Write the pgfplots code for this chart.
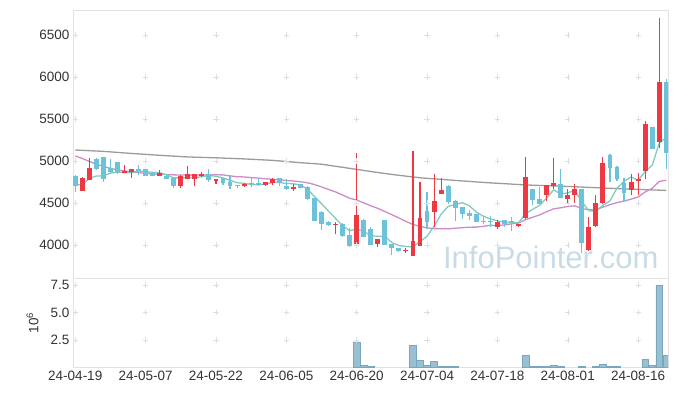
\documentclass[border=0pt]{standalone}
\usepackage{pgfplots}
\pgfplotsset{compat=1.18}
\usepackage{pgfplotstable}
\usepackage{fontspec}
\setmainfont{Liberation Sans}
\definecolor{cup}{RGB}{239,57,66}
\definecolor{cdn}{RGB}{108,194,217}
\definecolor{cmaa}{RGB}{130,202,192}
\definecolor{cmab}{RGB}{204,140,200}
\definecolor{cmac}{RGB}{155,155,155}
\definecolor{cvol}{RGB}{152,192,208}
\definecolor{cvold}{RGB}{120,166,188}
\definecolor{cgrid}{RGB}{222,222,222}
\definecolor{cframe}{RGB}{226,226,226}
\definecolor{cwm}{RGB}{200,219,230}
\definecolor{ctext}{RGB}{51,51,51}

% up (red) candles: index open high low close
\pgfplotstableread{
i o h l c
1 4647 4810 4640 4801
2 4774 5030 4770 4920
7 4861 4950 4855 4881
8 4873 4910 4800 4908
12 4825 4889 4820 4853
15 4706 4830 4679 4825
16 4782 4935 4780 4845
17 4786 4845 4702 4842
18 4821 4869 4815 4849
20 4762 4790 4730 4786
24 4706 4735 4690 4730
27 4714 4755 4700 4750
28 4738 4795 4714 4790
31 4663 4722 4639 4694
37 4238 4274 4127 4254
40 4008 5092 4000 4357
43 4016 4075 3976 4071
47 3925 3968 3901 3944
48 3873 5119 3870 4051
49 3992 4746 3990 4321
51 4397 4849 4220 4524
52 4611 4794 4605 4658
60 4218 4298 4194 4274
63 4222 4255 4215 4250
64 4321 5052 4315 4809
67 4599 4715 4524 4710
68 4706 5032 4667 4738
70 4552 4667 4496 4595
71 4595 4730 4500 4663
73 3937 4330 3929 4211
74 4226 4592 4220 4500
75 4496 5050 4490 4972
79 4655 4845 4595 4746
80 4762 4861 4595 4782
81 4885 5480 4782 5440
83 5230 6698 5151 5944
}\upT

% down (blue) candles
\pgfplotstableread{
i o h l c
0 4821 4830 4627 4706
3 5024 5030 4893 4908
4 5048 5050 4754 4782
5 4920 5024 4850 4865
6 4988 4990 4842 4869
9 4905 4950 4833 4885
10 4905 4910 4820 4825
11 4860 4870 4820 4825
13 4825 4830 4780 4790
14 4794 4800 4675 4702
19 4842 4905 4750 4774
21 4798 4800 4710 4738
22 4750 4830 4671 4706
23 4718 4720 4675 4706
25 4738 4800 4690 4726
26 4742 4800 4706 4718
29 4798 4800 4706 4742
30 4706 4782 4660 4667
32 4722 4730 4675 4683
33 4694 4700 4540 4548
34 4560 4565 4280 4286
35 4393 4400 4179 4254
36 4274 4280 4226 4238
38 4246 4266 4100 4111
39 4119 4202 3980 3992
41 4298 4305 4090 4095
42 4190 4211 4000 4004
44 4298 4300 4000 4004
45 4012 4015 3881 3968
46 3968 3970 3920 3925
50 4405 4627 4187 4274
53 4706 4710 4488 4516
54 4524 4536 4282 4445
55 4452 4455 4310 4373
56 4381 4417 4298 4349
57 4369 4372 4270 4278
58 4286 4337 4250 4274
59 4280 4341 4214 4270
61 4298 4300 4210 4254
62 4282 4329 4167 4270
65 4667 4670 4476 4536
66 4548 4694 4485 4488
69 4726 4901 4560 4563
72 4667 4670 3901 4020
76 5071 5080 4754 4920
77 4932 4945 4760 4782
78 4734 4794 4528 4623
82 5405 5410 5140 5147
84 5944 5976 4901 5099
}\dnT

% volume (millions)
\pgfplotstableread{
i v
40 2.32
41 0.19
42 0.10
48 2.04
49 0.68
50 0.19
51 0.59
52 0.10
53 0.10
54 0.10
64 1.12
65 0.10
66 0.10
67 0.10
68 0.19
69 0.10
72 0.10
74 0.10
75 0.28
76 0.10
77 0.10
81 0.74
82 0.19
83 7.45
84 1.12
}\volT

\begin{document}
\begin{tikzpicture}
\useasboundingbox (-73pt,-28.5pt) rectangle (604pt,367.5pt);
% ---------------- price panel ----------------
\begin{axis}[
  at={(0pt,89.5pt)}, anchor=south west,
  scale only axis, width=595pt, height=268pt,
  xmin=-0.32, xmax=84.25, ymin=3607, ymax=6798,
  xtick={0,10,...,80}, xticklabels={},
  ytick={4000,4500,5000,5500,6000,6500},
  axis line style={cframe},
  major tick length=0pt,
  tick label style={font=\fontsize{13.5}{14}\selectfont, text=ctext},
  /pgf/number format/1000 sep={},
  /pgf/number format/assume math mode=true,
]
\node[font=\fontsize{31}{31}\selectfont, text=cwm, anchor=base] at (rel axis cs:0.803,0.037) {InfoPointer.com};
\addplot[only marks, mark=+, mark size=2.6pt, color=cgrid, forget plot] coordinates {
(0,4000)(10,4000)(20,4000)(30,4000)(40,4000)(50,4000)(60,4000)(70,4000)(80,4000)
(0,4500)(10,4500)(20,4500)(30,4500)(40,4500)(50,4500)(60,4500)(70,4500)(80,4500)
(0,5000)(10,5000)(20,5000)(30,5000)(40,5000)(50,5000)(60,5000)(70,5000)(80,5000)
(0,5500)(10,5500)(20,5500)(30,5500)(40,5500)(50,5500)(60,5500)(70,5500)(80,5500)
(0,6000)(10,6000)(20,6000)(30,6000)(40,6000)(50,6000)(60,6000)(70,6000)(80,6000)
(0,6500)(10,6500)(20,6500)(30,6500)(40,6500)(50,6500)(60,6500)(70,6500)(80,6500)
};
% long moving average (grey)
\addplot[cmac, line width=1.3pt, forget plot] coordinates {
(0,5131)(4,5115)(8,5090)(12,5068)(16,5048)(20,5038)(24,5025)(28,5008)(32,4980)(35,4962)
(38,4925)(40,4900)(42,4875)(45,4840)(49,4800)(53,4775)(58,4745)(64,4715)(70,4697)(76,4675)(80,4662)(84,4650)
};
% 20-day moving average (pink)
\addplot[cmab, line width=1.3pt, forget plot] coordinates {
(0,5060)(1,5030)(2,4995)(3,4962)(4,4935)(5,4912)(6,4895)(7,4882)(8,4872)(9,4862)
(10,4853)(11,4847)(12,4842)(13,4838)(14,4835)(15,4833)(16,4832)(17,4832)(18,4833)(19,4833)
(20,4837)(21,4834)(22,4823)(23,4813)(24,4810)(25,4803)(26,4796)(27,4789)(28,4783)(29,4776)
(30,4768)(31,4762)(32,4753)(33,4741)(34,4720)(35,4692)(36,4661)(37,4632)(38,4595)(39,4556)
(40,4535)(41,4502)(42,4467)(43,4436)(44,4399)(45,4361)(46,4322)(47,4281)(48,4244)(49,4223)
(50,4204)(51,4195)(52,4194)(53,4192)(54,4200)(55,4206)(56,4212)(57,4213)(58,4221)(59,4235)
(60,4231)(61,4239)(62,4252)(63,4261)(64,4301)(65,4330)(66,4358)(67,4396)(68,4431)(69,4443)
(70,4459)(71,4466)(72,4434)(73,4419)(74,4421)(75,4451)(76,4480)(77,4505)(78,4522)(79,4546)
(80,4572)(81,4631)(82,4675)(83,4757)(84,4771)
};
% 5-day moving average (teal)
\addplot[cmaa, line width=1.3pt, forget plot] coordinates {
(0,4714)(1,4722)(2,4790)(3,4822)(4,4823)(5,4855)(6,4869)(7,4861)(8,4861)(9,4882)
(10,4874)(11,4865)(12,4859)(13,4836)(14,4799)(15,4799)(16,4803)(17,4801)(18,4813)(19,4827)
(20,4819)(21,4798)(22,4771)(23,4742)(24,4733)(25,4721)(26,4717)(27,4726)(28,4743)(29,4745)
(30,4733)(31,4729)(32,4715)(33,4667)(34,4576)(35,4493)(36,4402)(37,4316)(38,4229)(39,4170)
(40,4190)(41,4162)(42,4112)(43,4104)(44,4106)(45,4028)(46,3994)(47,3982)(48,3978)(49,4042)
(50,4103)(51,4223)(52,4366)(53,4459)(54,4483)(55,4503)(56,4468)(57,4392)(58,4344)(59,4309)
(60,4289)(61,4270)(62,4268)(63,4264)(64,4371)(65,4424)(66,4471)(67,4559)(68,4656)(69,4607)
(70,4619)(71,4654)(72,4516)(73,4410)(74,4398)(75,4473)(76,4525)(77,4677)(78,4759)(79,4809)
(80,4771)(81,4875)(82,4948)(83,5212)(84,5282)
};
% wicks
\addplot[draw=none, mark=none, forget plot,
  error bars/.cd, y dir=plus, y explicit, error mark=none,
  error bar style={line width=1.1pt, draw=cup}]
  table[x=i, y=l, y error plus expr=\thisrow{h}-\thisrow{l}] {\upT};
\addplot[draw=none, mark=none, forget plot,
  error bars/.cd, y dir=plus, y explicit, error mark=none,
  error bar style={line width=1.1pt, draw=cdn}]
  table[x=i, y=l, y error plus expr=\thisrow{h}-\thisrow{l}] {\dnT};
% bodies
\addplot[draw=none, mark=none, forget plot,
  error bars/.cd, y dir=plus, y explicit, error mark=none,
  error bar style={line width=4.9pt, draw=cup}]
  table[x=i, y=o, y error plus expr=\thisrow{c}-\thisrow{o}] {\upT};
\addplot[draw=none, mark=none, forget plot,
  error bars/.cd, y dir=plus, y explicit, error mark=none,
  error bar style={line width=4.9pt, draw=cdn}]
  table[x=i, y=c, y error plus expr=\thisrow{o}-\thisrow{c}] {\dnT};
\end{axis}
% ---------------- volume panel ----------------
\begin{axis}[
  at={(0pt,0pt)}, anchor=south west,
  scale only axis, width=595pt, height=89.5pt,
  xmin=-0.32, xmax=84.25, ymin=0, ymax=8.14,
  xtick={0,10,...,80},
  xticklabels={24-04-19,24-05-07,24-05-22,24-06-05,24-06-20,24-07-04,24-07-18,24-08-01,24-08-16},
  ytick={2.5,5,7.5},
  yticklabel style={/pgf/number format/fixed, /pgf/number format/precision=1, /pgf/number format/fixed zerofill},
  axis line style={cframe},
  major tick length=0pt,
  tick label style={font=\fontsize{13.5}{14}\selectfont, text=ctext},
  /pgf/number format/assume math mode=true,
  ylabel={10\textsuperscript{6}},
  ylabel style={font=\fontsize{13.5}{14}\selectfont, text=ctext, at={(axis description cs:-0.068,0.5)}, anchor=center, rotate=0},
]
\addplot[only marks, mark=+, mark size=2.6pt, color=cgrid, forget plot] coordinates {
(0,2.5)(10,2.5)(20,2.5)(30,2.5)(40,2.5)(50,2.5)(60,2.5)(70,2.5)(80,2.5)
(0,5)(10,5)(20,5)(30,5)(40,5)(50,5)(60,5)(70,5)(80,5)
(0,7.5)(10,7.5)(20,7.5)(30,7.5)(40,7.5)(50,7.5)(60,7.5)(70,7.5)(80,7.5)
};
\addplot[ybar, bar width=6.6pt, bar shift=0pt, fill=cvol, draw=cvold, line width=0.6pt, forget plot]
  table[x=i, y=v] {\volT};
\end{axis}
\end{tikzpicture}
\end{document}
